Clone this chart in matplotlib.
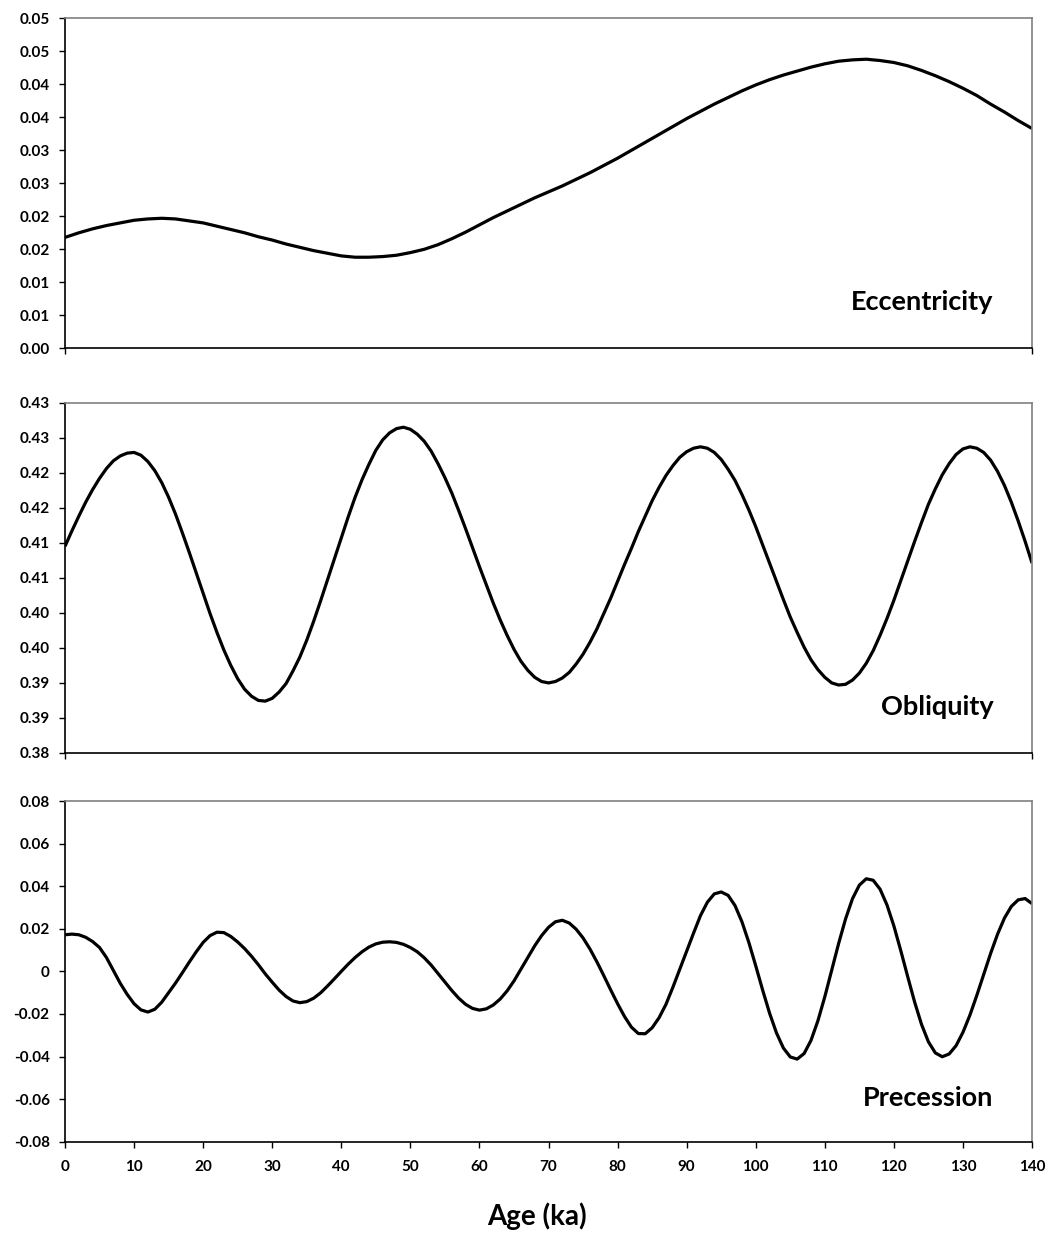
import matplotlib.pyplot as plt
from matplotlib.ticker import FixedLocator

plt.rcParams['font.family'] = ['Lato', 'DejaVu Sans']
plt.rcParams['font.weight'] = 'bold'

# eccentricity, every 2 ka
ecc_age = list(range(0, 141, 2))
ecc = [0.0168, 0.0175, 0.0181, 0.0186, 0.0190, 0.0194, 0.0196, 0.0197, 0.0196, 0.0193,
       0.0190, 0.0185, 0.0180, 0.0175, 0.0169, 0.0164, 0.0158, 0.0153, 0.0148, 0.0144,
       0.0140, 0.0138, 0.0138, 0.0139, 0.0141, 0.0145, 0.0150, 0.0157, 0.0166, 0.0176,
       0.0187, 0.0198, 0.0208, 0.0218, 0.0228, 0.0237, 0.0246, 0.0256, 0.0266, 0.0277,
       0.0288, 0.0300, 0.0312, 0.0324, 0.0336, 0.0348, 0.0359, 0.0370, 0.0380, 0.0390,
       0.0399, 0.0407, 0.0414, 0.0420, 0.0426, 0.0431, 0.0435, 0.0437, 0.0438, 0.0436,
       0.0433, 0.0428, 0.0421, 0.0413, 0.0404, 0.0394, 0.0383, 0.0370, 0.0358, 0.0345,
       0.0333]

# obliquity, every 1 ka
obl_age = list(range(0, 141))
obl = [0.4095, 0.4117, 0.4138, 0.4158, 0.4176, 0.4192, 0.4206, 0.4217, 0.4224, 0.4228,
       0.4229, 0.4225, 0.4216, 0.4203, 0.4186, 0.4165, 0.4141, 0.4114, 0.4086, 0.4057,
       0.4028, 0.3999, 0.3972, 0.3947, 0.3925, 0.3906, 0.3891, 0.3881, 0.3875, 0.3874,
       0.3878, 0.3887, 0.3899, 0.3917, 0.3937, 0.3961, 0.3988, 0.4017, 0.4047, 0.4077,
       0.4107, 0.4137, 0.4165, 0.4190, 0.4212, 0.4232, 0.4247, 0.4257, 0.4263, 0.4265,
       0.4262, 0.4255, 0.4245, 0.4231, 0.4213, 0.4193, 0.4171, 0.4146, 0.4120, 0.4093,
       0.4066, 0.4040, 0.4014, 0.3990, 0.3968, 0.3948, 0.3931, 0.3918, 0.3908, 0.3902,
       0.3900, 0.3902, 0.3907, 0.3915, 0.3927, 0.3941, 0.3958, 0.3977, 0.3999, 0.4021,
       0.4045, 0.4069, 0.4092, 0.4116, 0.4138, 0.4160, 0.4179, 0.4196, 0.4210, 0.4222,
       0.4230, 0.4235, 0.4237, 0.4235, 0.4229, 0.4219, 0.4205, 0.4189, 0.4169, 0.4147,
       0.4123, 0.4097, 0.4071, 0.4045, 0.4019, 0.3994, 0.3972, 0.3951, 0.3933, 0.3919,
       0.3908, 0.3900, 0.3897, 0.3898, 0.3904, 0.3914, 0.3928, 0.3946, 0.3968, 0.3992,
       0.4018, 0.4046, 0.4074, 0.4102, 0.4129, 0.4155, 0.4177, 0.4197, 0.4213, 0.4226,
       0.4234, 0.4237, 0.4235, 0.4229, 0.4218, 0.4202, 0.4182, 0.4158, 0.4131, 0.4102,
       0.4071]

# precession, every 1 ka
pre_age = list(range(0, 141))
pre = [0.0172, 0.0175, 0.0172, 0.0160, 0.0140, 0.0112, 0.0065, 0.0005, -0.0056, -0.0108,
       -0.0152, -0.0181, -0.0191, -0.0178, -0.0145, -0.0100, -0.0055, -0.0006, 0.0044, 0.0092,
       0.0136, 0.0168, 0.0184, 0.0182, 0.0164, 0.0138, 0.0107, 0.0071, 0.0031, -0.0012,
       -0.0051, -0.0088, -0.0118, -0.0139, -0.0147, -0.0142, -0.0126, -0.0101, -0.0069, -0.0035,
       0.0000, 0.0034, 0.0065, 0.0092, 0.0114, 0.0129, 0.0137, 0.0139, 0.0136, 0.0127,
       0.0112, 0.0092, 0.0064, 0.0030, -0.0010, -0.0050, -0.0090, -0.0126, -0.0155, -0.0174,
       -0.0182, -0.0176, -0.0158, -0.0130, -0.0092, -0.0045, 0.0010, 0.0066, 0.0120, 0.0168,
       0.0207, 0.0233, 0.0240, 0.0227, 0.0198, 0.0157, 0.0105, 0.0045, -0.0020, -0.0087,
       -0.0152, -0.0212, -0.0262, -0.0292, -0.0293, -0.0265, -0.0218, -0.0155, -0.0075, 0.0010,
       0.0095, 0.0180, 0.0262, 0.0325, 0.0364, 0.0373, 0.0357, 0.0309, 0.0233, 0.0136,
       0.0026, -0.0088, -0.0196, -0.0289, -0.0360, -0.0402, -0.0412, -0.0386, -0.0324, -0.0232,
       -0.0119, 0.0005, 0.0131, 0.0246, 0.0341, 0.0405, 0.0435, 0.0428, 0.0386, 0.0312,
       0.0213, 0.0097, -0.0025, -0.0144, -0.0249, -0.0331, -0.0383, -0.0401, -0.0388, -0.0349,
       -0.0286, -0.0206, -0.0113, -0.0014, 0.0084, 0.0174, 0.0250, 0.0305, 0.0336, 0.0342,
       0.0318]

# axis ticks and Excel-style rounded labels
ecc_ticks = [i * 0.005 for i in range(11)]
ecc_labels = ['0.00', '0.01', '0.01', '0.02', '0.02', '0.03', '0.03', '0.04', '0.04', '0.05', '0.05']
obl_ticks = [0.38 + i * 0.005 for i in range(11)]
obl_labels = ['0.38', '0.39', '0.39', '0.40', '0.40', '0.41', '0.41', '0.42', '0.42', '0.43', '0.43']
pre_ticks = [-0.08, -0.06, -0.04, -0.02, 0, 0.02, 0.04, 0.06, 0.08]
pre_labels = ['-0.08', '-0.06', '-0.04', '-0.02', '0', '0.02', '0.04', '0.06', '0.08']
age_ticks = list(range(0, 141, 10))

fig = plt.figure(figsize=(10.5, 12.36), dpi=100)
ax1 = fig.add_axes([0.0619, 0.7182, 0.921, 0.2670])
ax2 = fig.add_axes([0.0619, 0.3908, 0.921, 0.2834])
ax3 = fig.add_axes([0.0619, 0.0763, 0.921, 0.2756])

panels = [
    (ax1, ecc_age, ecc, (0, 0.05), ecc_ticks, ecc_labels, 'Eccentricity', 0.116),
    (ax2, obl_age, obl, (0.38, 0.43), obl_ticks, obl_labels, 'Obliquity', 0.108),
    (ax3, pre_age, pre, (-0.08, 0.08), pre_ticks, pre_labels, 'Precession', 0.105),
]

for ax, x, y, ylim, yt, yl, name, ty in panels:
    ax.plot(x, y, color='black', lw=2.3, solid_joinstyle='round', solid_capstyle='butt')
    ax.set_xlim(0, 140)
    ax.set_ylim(*ylim)
    ax.yaxis.set_major_locator(FixedLocator(yt))
    ax.set_yticklabels(yl)
    ax.tick_params(axis='y', direction='out', length=4, width=1, pad=7,
                   labelsize=11, colors='black')
    ax.tick_params(axis='x', direction='out', length=4, width=1, pad=9,
                   labelsize=11)
    for s in ['top', 'right']:
        ax.spines[s].set_color('#808080')
        ax.spines[s].set_linewidth(1.2)
    for s in ['left', 'bottom']:
        ax.spines[s].set_color('black')
        ax.spines[s].set_linewidth(1.2)
    ax.text(0.96, ty, name, transform=ax.transAxes, ha='right', va='baseline',
            fontsize=19.5, fontweight='bold')

for ax in (ax1, ax2):
    ax.xaxis.set_major_locator(FixedLocator([0, 140]))
    ax.set_xticklabels([])

ax3.xaxis.set_major_locator(FixedLocator(age_ticks))
ax3.set_xticklabels([str(a) for a in age_ticks])

fig.text(0.511, 0.009, 'Age (ka)', ha='center', va='baseline',
         fontsize=20, fontweight='bold')

fig.savefig('out.png', dpi=100, facecolor='white')
